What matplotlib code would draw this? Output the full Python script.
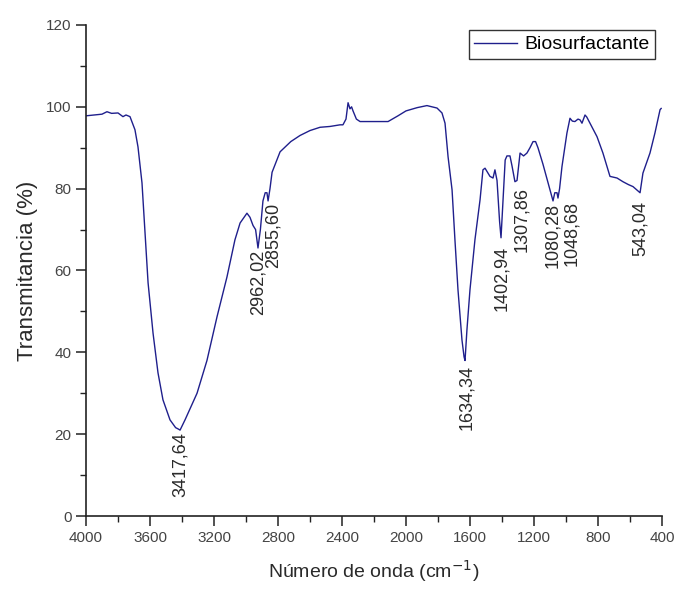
import matplotlib.pyplot as plt
from matplotlib.ticker import MultipleLocator

# espectro FTIR
numero_onda = [4000, 3950, 3900, 3869, 3840, 3800, 3769, 3750, 3725, 3694, 3675,
               3650, 3631, 3612, 3581, 3550, 3519, 3475, 3440, 3425, 3412, 3381,
               3306, 3244, 3181, 3119, 3069, 3037, 2994, 2975, 2956, 2940, 2925,
               2910, 2894, 2880, 2869, 2862, 2850, 2837, 2787, 2720, 2662, 2600,
               2537, 2475, 2412, 2394, 2375, 2362, 2350, 2340, 2331, 2310, 2287,
               2200, 2112, 2050, 2000, 1930, 1869, 1806, 1775, 1756, 1737, 1712,
               1694, 1675, 1650, 1637, 1631, 1619, 1600, 1569, 1537, 1519, 1506,
               1475, 1456, 1444, 1431, 1415, 1406, 1394, 1380, 1369, 1350, 1337,
               1319, 1306, 1287, 1265, 1244, 1225, 1206, 1190, 1175, 1144, 1100,
               1081, 1070, 1056, 1050, 1040, 1025, 994, 975, 960, 944, 925, 912,
               900, 881, 870, 850, 806, 769, 725, 681, 644, 610, 581, 560, 537,
               519, 475, 444, 412, 405]
transmitancia = [97.8, 98.0, 98.2, 98.8, 98.4, 98.5, 97.6, 98.0, 97.6, 94.4, 90.2,
                 81.4, 69.0, 57.0, 44.7, 35.0, 28.4, 23.5, 21.6, 21.3, 21.0, 23.5,
                 30.0, 38.0, 48.7, 58.4, 67.5, 71.6, 74.0, 73.0, 71.0, 70.0, 65.5,
                 70.0, 77.0, 79.0, 79.0, 77.0, 80.0, 84.0, 89.0, 91.5, 93.0, 94.2,
                 95.0, 95.2, 95.6, 95.6, 97.0, 101.0, 99.5, 100.0, 99.0, 97.0, 96.4,
                 96.4, 96.4, 97.8, 99.0, 99.8, 100.3, 99.7, 98.5, 96.0, 87.8, 79.7,
                 67.5, 55.3, 43.0, 38.9, 38.0, 45.5, 55.3, 67.5, 77.3, 84.6, 85.0,
                 83.0, 82.6, 84.6, 82.0, 72.0, 68.0, 77.0, 87.0, 88.0, 88.0, 85.5,
                 81.7, 82.0, 88.7, 88.0, 88.7, 90.0, 91.5, 91.5, 90.0, 86.0, 79.7,
                 77.0, 79.0, 79.0, 77.7, 80.0, 85.4, 93.6, 97.2, 96.5, 96.4, 97.0, 96.8,
                 96.0, 98.0, 97.5, 96.0, 92.7, 88.7, 83.0, 82.6, 81.7, 81.0, 80.5, 79.8,
                 79.0, 83.8, 88.7, 93.6, 99.3, 99.6]

# etiquetas de picos
picos_texto = ["3417,64", "2962,02", "2855,60", "1634,34", "1402,94",
               "1307,86", "1080,28", "1048,68", "543,04"]
picos_x = [3413, 2925, 2831, 1619, 1400, 1275, 1081, 964, 537]
picos_y = [20.5, 65, 76.5, 37, 66, 80.5, 76.5, 77, 77]

plt.rcParams['font.family'] = ['Liberation Sans', 'DejaVu Sans']
color_txt = '#2a2a2a'

fig = plt.figure(figsize=(6.75, 5.89), dpi=100)
ax = fig.add_axes([0.1274, 0.1239, 0.8533, 0.8337])

ax.plot(numero_onda, transmitancia, color='#1f1f8c', lw=1.0, label='Biosurfactante')

for t, x, y in zip(picos_texto, picos_x, picos_y):
    ax.text(x, y, t, rotation=90, ha='center', va='top', fontsize=13, color=color_txt)

ax.set_xlim(4000, 400)
ax.set_ylim(0, 120)
ax.xaxis.set_major_locator(MultipleLocator(400))
ax.xaxis.set_minor_locator(MultipleLocator(200))
ax.yaxis.set_major_locator(MultipleLocator(20))
ax.yaxis.set_minor_locator(MultipleLocator(10))

for s in ['top', 'right']:
    ax.spines[s].set_visible(False)
for s in ['left', 'bottom']:
    ax.spines[s].set_linewidth(1.2)
    ax.spines[s].set_color('#222222')

ax.tick_params(which='major', direction='out', length=7, width=1.1, labelsize=11,
               colors='#222222', labelcolor='#444444')
ax.tick_params(which='minor', direction='out', length=4, width=1.0, colors='#222222')

ax.set_xlabel('Número de onda (cm$^{-1}$)', fontsize=14, color=color_txt, labelpad=10)
ax.set_ylabel('Transmitancia (%)', fontsize=16, color=color_txt, labelpad=6)

leg = ax.legend(loc='upper right', bbox_to_anchor=(0.988, 0.99), borderaxespad=0,
                fontsize=14, frameon=True, fancybox=False, handlelength=2.2,
                handletextpad=0.35, borderpad=0.3)
leg.get_frame().set_edgecolor('black')
leg.get_frame().set_linewidth(1.0)

fig.savefig('out.png', dpi=100)
